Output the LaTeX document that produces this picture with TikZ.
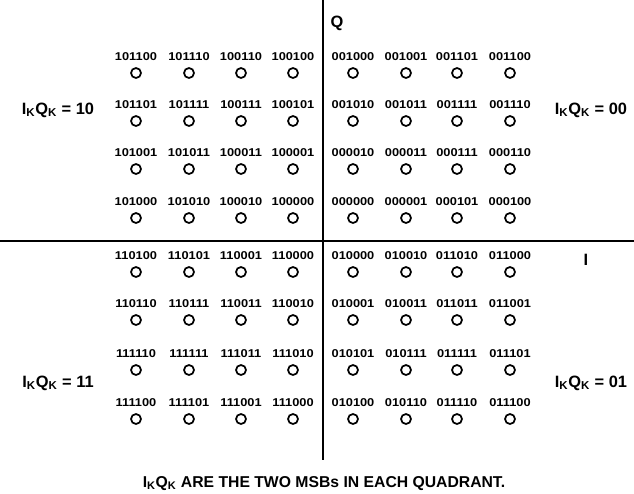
\documentclass[tikz,border=0pt]{standalone}
\usepackage{fontspec}
\setmainfont{Liberation Sans}
\newfontfamily\codefont{Liberation Sans Bold}[FakeStretch=1.13]
\usetikzlibrary{positioning}
\newcommand{\ikqk}{I\textsubscript{K}Q\textsubscript{K}}
\tikzset{
  point/.style={circle, draw=black, line width=1.3pt, minimum size=7.5pt, inner sep=0pt},
  code/.style={inner sep=0pt, font=\codefont\fontsize{8.5}{8.5}\selectfont},
  quad/.style={inner sep=0pt, anchor=base, font=\bfseries\fontsize{12.3}{12.3}\selectfont},
  axis/.style={line width=1.6pt}
}

\begin{document}
\begin{tikzpicture}[x=0.75pt, y=-0.75pt]
  \useasboundingbox (0,0) rectangle (634,493);

  % axes
  \coordinate (qtop) at (323,0);
  \coordinate (qbot) at (323,460);
  \coordinate (ileft) at (0,241);
  \coordinate (iright) at (634,241);
  \draw [axis] (qtop) -- (qbot);
  \draw [axis] (ileft) -- (iright);
  \node (qlabel) [quad] at (337,27) {Q};
  \node (ilabel) [quad] at (586,265) {I};

  % constellation points, row by row
  \foreach \yy/\row [count=\r] in {
      73/{101100,101110,100110,100100,001000,001001,001101,001100},
      121/{101101,101111,100111,100101,001010,001011,001111,001110},
      169/{101001,101011,100011,100001,000010,000011,000111,000110},
      218/{101000,101010,100010,100000,000000,000001,000101,000100},
      272/{110100,110101,110001,110000,010000,010010,011010,011000},
      320/{110110,110111,110011,110010,010001,010011,011011,011001},
      370/{111110,111111,111011,111010,010101,010111,011111,011101},
      419/{111100,111101,111001,111000,010100,010110,011110,011100}} {
    \foreach \code [count=\c] in \row {
      \pgfmathsetmacro\xx{{136,189,241,293,353,406,457,510}[\c-1]}
      \node (pt\r-\c) [point] at (\xx,\yy) {};
      \node (lb\r-\c) [code] at ([yshift=12pt]pt\r-\c) {\code};
    }
  }

  % quadrant labels
  \node (q10) [quad] at (58,114) {\ikqk{} = 10};
  \node (q00) [quad] at (591,114) {\ikqk{} = 00};
  \node (q11) [quad] at (58,387) {\ikqk{} = 11};
  \node (q01) [quad] at (591,387) {\ikqk{} = 01};

  \node (note) [quad, font=\bfseries\fontsize{11.8}{11.8}\selectfont] at (324,487) {\ikqk{} ARE THE TWO MSBs IN EACH QUADRANT.};
\end{tikzpicture}
\end{document}
